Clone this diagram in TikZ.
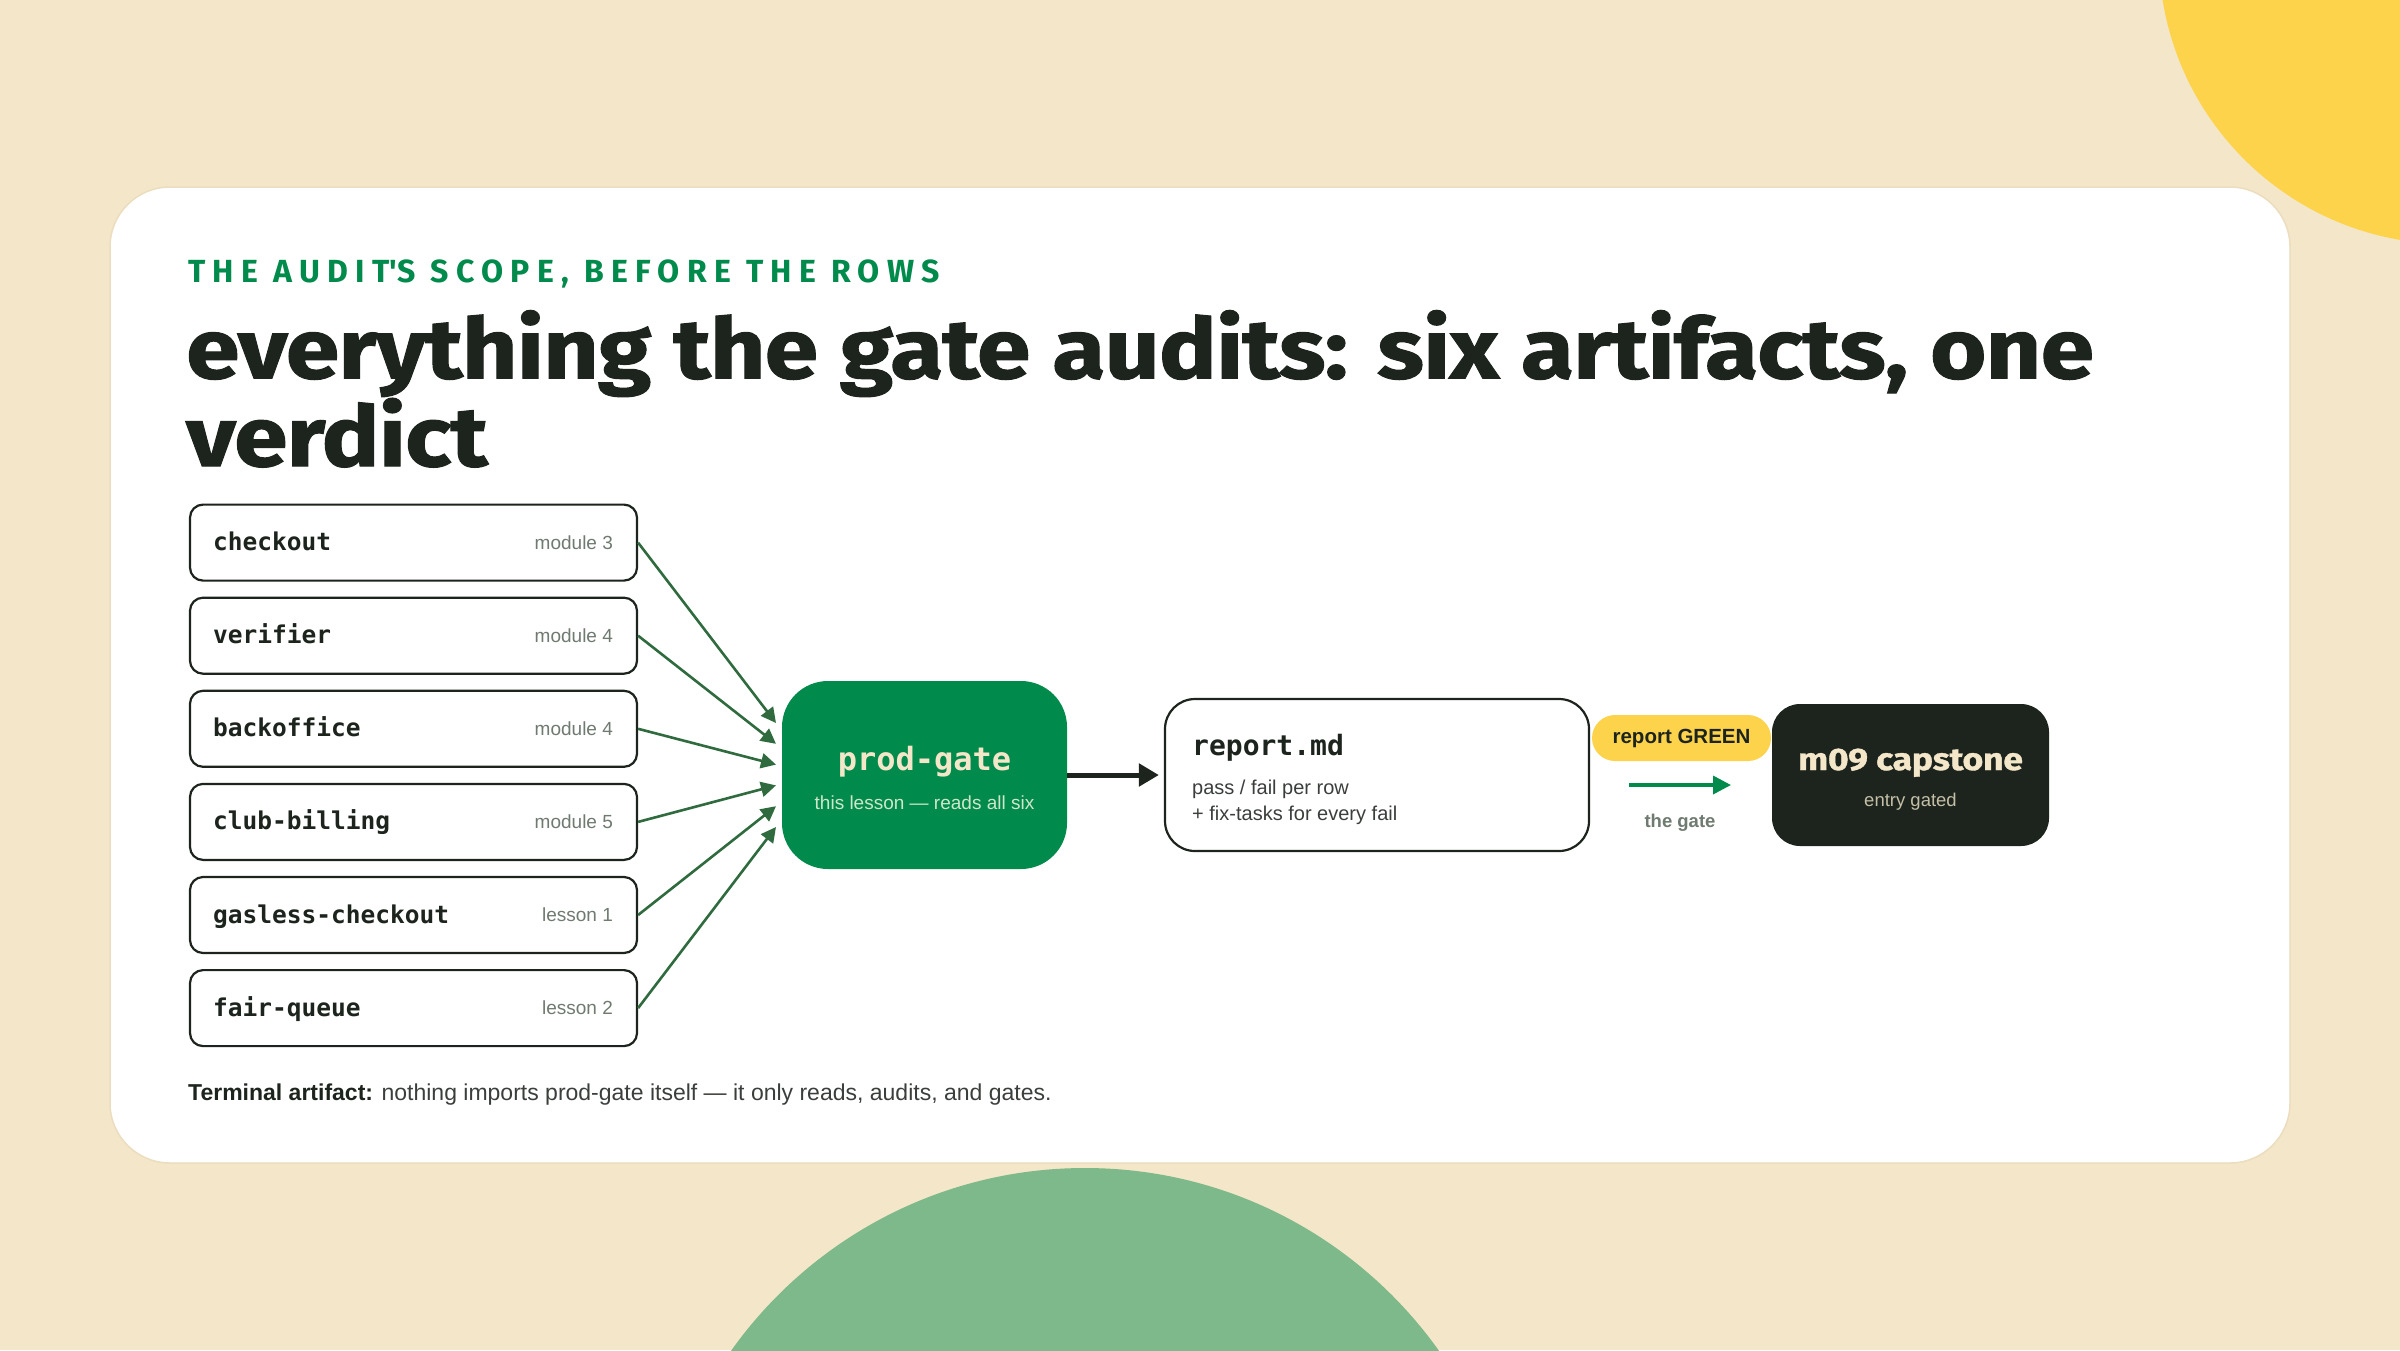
\documentclass[tikz,border=0pt]{standalone}
\usepackage{fontspec}
\setmainfont{Liberation Sans}
\setmonofont{DejaVu Sans Mono}
\newfontfamily\headfont{Fira Sans}[LetterSpace=-1,FakeStretch=1.15,FakeBold=1.2]
\newfontfamily\capsfont{Fira Sans}[LetterSpace=23]
\usetikzlibrary{arrows.meta,positioning,calc}
\definecolor{cream}{HTML}{F4E6C8}
\definecolor{sun}{HTML}{FDD34B}
\definecolor{sage}{HTML}{7DB98A}
\definecolor{brand}{HTML}{008A4B}
\definecolor{leaf}{HTML}{2F6B3E}
\definecolor{ink}{HTML}{1C241D}
\definecolor{muted}{HTML}{6F7A70}
\definecolor{body}{HTML}{3B3F3B}
\definecolor{paleg}{HTML}{CFE6CB}
\definecolor{stone}{HTML}{C5BFA8}
\definecolor{edge}{HTML}{EBDDBE}

\begin{document}
\begin{tikzpicture}[x=1pt,y=-1pt,
    src/.style={draw=ink,line width=2.2pt,rounded corners=13pt,fill=white,
      minimum width=447pt,minimum height=76pt,inner sep=0pt},
    mono/.style={inner sep=0pt,text=ink,font=\ttfamily\bfseries\fontsize{24.5}{29}\selectfont},
    tag/.style={inner sep=0pt,text=muted,font=\fontsize{19}{23}\selectfont},
    feed/.style={draw=leaf,line width=2.6pt,-{Triangle[length=15pt,width=15pt]}}]
  % backdrop
  \useasboundingbox (0,0) rectangle (2400,1350);
  \clip (0,0) rectangle (2400,1350);
  \fill[cream] (0,0) rectangle (2400,1350);
  \fill[sun] (2449,-46) circle[radius=290];
  \fill[sage] (1085,1602) circle[radius=434];
  \draw[edge,line width=1.5pt,fill=white,rounded corners=60pt] (110,187) rectangle (2290,1163);
  % heading
  \node[anchor=west,inner sep=0pt,text=brand,font=\capsfont\bfseries\fontsize{32}{38}\selectfont]
    (eyebrow) at (188,274) {THE AUDIT\textquotesingle S SCOPE, BEFORE THE ROWS};
  \node[anchor=north west,align=left,inner sep=0pt,text=ink,font=\headfont\bfseries\fontsize{84}{86}\selectfont]
    (title) at (186,310) {everything the gate audits: six artifacts, one\\verdict};
  % the six artifacts
  \foreach \i/\name/\k in {1/checkout/module 3,2/verifier/module 4,3/backoffice/module 4,
      4/club-billing/module 5,5/gasless-checkout/lesson 1,6/fair-queue/lesson 2}{
    \node[src] (src\i) at (413.5,449.5+93.1*\i) {};
    \node[mono,anchor=base west] (name\i) at ([xshift=24pt,yshift=-8pt]src\i.west) {\name};
    \node[tag,anchor=base east] (tag\i) at ([xshift=-25pt,yshift=-6.5pt]src\i.east) {\k};
  }
  % gate
  \node[fill=brand,rounded corners=46pt,minimum width=285pt,minimum height=188pt] (gate) at (924.5,775) {};
  \node[anchor=base,inner sep=0pt,text=cream,font=\ttfamily\bfseries\fontsize{32}{38}\selectfont]
    (gatename) at (924.5,770) {prod-gate};
  \node[anchor=base,inner sep=0pt,text=paleg,font=\fontsize{19}{23}\selectfont]
    (gatenote) at (924.5,809) {this lesson — reads all six};
  \foreach \i in {1,...,6}{
    \coordinate (in\i) at (776,775+20.8*\i-72.8);
    \draw[feed] (src\i.east) -- (in\i);
  }
  % report
  \node[draw=ink,line width=2.2pt,rounded corners=30pt,fill=white,minimum width=424pt,minimum height=152pt]
    (report) at (1377,775) {};
  \node[anchor=base west,inner sep=0pt,text=ink,font=\ttfamily\bfseries\fontsize{28}{33}\selectfont]
    (reportname) at (1192,755) {report.md};
  \node[anchor=base west,inner sep=0pt,text=body,font=\fontsize{20}{24}\selectfont]
    (pass) at (1192,794) {pass / fail per row};
  \node[anchor=base west,inner sep=0pt,text=body,font=\fontsize{20}{24}\selectfont]
    (fix) at (1192,820) {+ fix-tasks for every fail};
  \draw[draw=ink,line width=5pt,-{Triangle[length=20pt,width=22pt]},shorten >=5pt] (gate.east) -- (report.west);
  % verdict
  \node[fill=sun,rounded corners=23pt,minimum width=179pt,minimum height=46pt,inner sep=0pt,
    text=ink,font=\bfseries\fontsize{20.5}{24}\selectfont] (green) at (1681.5,738) {report GREEN};
  \coordinate (gs) at (1629,785);
  \coordinate (ge) at (1731,785);
  \draw[draw=brand,line width=3.5pt,-{Triangle[length=18pt,width=18pt]}] (gs) -- (ge);
  \node[inner sep=0pt,text=muted,font=\bfseries\fontsize{18.5}{22}\selectfont] (thegate) at (1680,823) {the gate};
  % capstone
  \node[fill=ink,rounded corners=28pt,minimum width=277pt,minimum height=142pt] (capstone) at (1910.5,775) {};
  \node[anchor=base,inner sep=0pt,text=cream,font=\headfont\bfseries\fontsize{31}{36}\selectfont]
    (capname) at (1910.5,770) {m09 capstone};
  \node[anchor=base,inner sep=0pt,text=stone,font=\fontsize{18.5}{22}\selectfont]
    (capnote) at (1910.5,806) {entry gated};
  % footnote
  \node[anchor=base west,inner sep=0pt,text=body,font=\fontsize{23}{27}\selectfont] (note) at (188,1100)
    {\textcolor{ink}{\bfseries Terminal artifact:} nothing imports prod-gate itself — it only reads, audits, and gates.};
\end{tikzpicture}
\end{document}
